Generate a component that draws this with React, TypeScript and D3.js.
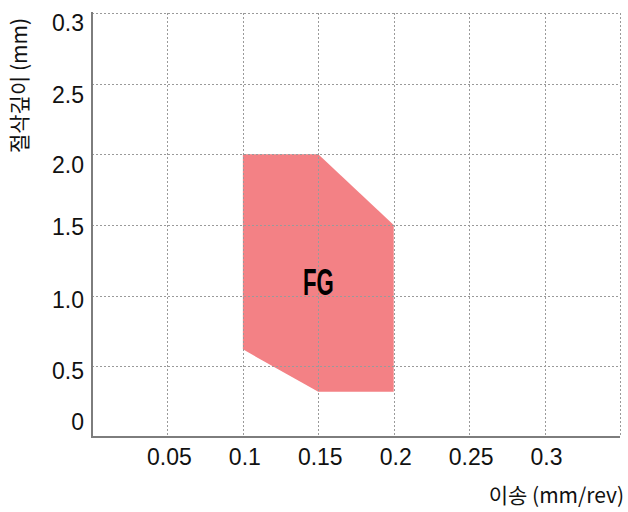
import { useEffect, useRef } from 'react';
import * as d3 from 'd3';

// region outline (feed mm/rev, depth of cut mm)
const regionFeed = [0.1, 0.15, 0.2, 0.2, 0.15, 0.1];
const regionDepth = [2.0, 2.0, 1.5, 0.32, 0.32, 0.62];
const regionName = 'FG';
const regionLabelAt = [0.15, 1.1];

const xTicks = [0.05, 0.1, 0.15, 0.2, 0.25, 0.3];
const xTickLabels = ['0.05', '0.1', '0.15', '0.2', '0.25', '0.3'];
const yTicks = [0, 0.5, 1.0, 1.5, 2.0, 2.5, 3.0];
const yTickLabels = ['0', '0.5', '1.0', '1.5', '2.0', '2.5', '0.3'];

const xTitle = '이송 (mm/rev)';
const yTitle = '절삭깊이 (mm)';

// label nudges (px) to match hand-placed tick labels
const yLabelDy = [-15, 5, 4, 1.5, 11, 11, 10];

function App() {
  const svgRef = useRef<SVGSVGElement>(null);

  useEffect(() => {
    const width = 628;
    const height = 512;
    const font = '"Liberation Sans", Arial, sans-serif';
    const krFont = '"Noto Sans CJK KR", "Liberation Sans", sans-serif';

    const svg = d3.select(svgRef.current);
    svg.selectAll('*').remove();
    svg.attr('width', width).attr('height', height);

    const x = d3.scaleLinear().domain([0, 0.35]).range([92, 620]);
    const y = d3.scaleLinear().domain([0, 3]).range([437, 13]);

    // region polygon
    const pts: [number, number][] = regionFeed.map((f, i) => [x(f), y(regionDepth[i])]);
    svg
      .append('path')
      .attr('d', d3.line()(pts) + 'Z')
      .attr('fill', '#f38185');

    // dotted grid (includes top and right borders)
    const grid = svg.append('g').attr('stroke', '#9a9a9a').attr('stroke-width', 1).attr('stroke-dasharray', '2,2');
    grid
      .selectAll('line.v')
      .data([...xTicks, 0.35])
      .enter()
      .append('line')
      .attr('x1', (d) => Math.round(x(d)) + 0.5)
      .attr('x2', (d) => Math.round(x(d)) + 0.5)
      .attr('y1', y(3))
      .attr('y2', y(0));
    grid
      .selectAll('line.h')
      .data(yTicks.slice(1))
      .enter()
      .append('line')
      .attr('x1', x(0))
      .attr('x2', x(0.35))
      .attr('y1', (d) => Math.round(y(d)) + 0.5)
      .attr('y2', (d) => Math.round(y(d)) + 0.5);

    // axis lines
    svg
      .append('path')
      .attr('d', `M${x(0)},${y(3) - 1}V${y(0)}H${x(0.35)}`)
      .attr('fill', 'none')
      .attr('stroke', '#7d7d7d')
      .attr('stroke-width', 2);

    // tick labels
    svg
      .selectAll('text.xt')
      .data(xTicks)
      .enter()
      .append('text')
      .attr('x', (d) => x(d) + 2)
      .attr('y', 465)
      .attr('text-anchor', 'middle')
      .attr('font-family', font)
      .attr('font-size', 23)
      .attr('fill', '#111')
      .text((d, i) => xTickLabels[i]);

    svg
      .selectAll('text.yt')
      .data(yTicks)
      .enter()
      .append('text')
      .attr('x', 84)
      .attr('y', (d, i) => y(d) + yLabelDy[i])
      .attr('dy', '0.35em')
      .attr('text-anchor', 'end')
      .attr('font-family', font)
      .attr('font-size', 23)
      .attr('fill', '#111')
      .text((d, i) => yTickLabels[i]);

    // axis titles
    svg
      .append('text')
      .attr('x', 624)
      .attr('y', 503)
      .attr('text-anchor', 'end')
      .attr('font-family', krFont)
      .attr('font-size', 21)
      .attr('fill', '#111')
      .text(xTitle);

    svg
      .append('text')
      .attr('transform', 'translate(27, 18) rotate(-90)')
      .attr('text-anchor', 'end')
      .attr('font-family', krFont)
      .attr('font-size', 21)
      .attr('fill', '#111')
      .text(yTitle);

    // region label
    svg
      .append('text')
      .attr('transform', `translate(${x(regionLabelAt[0])}, ${y(regionLabelAt[1]) + 13}) scale(0.6, 1)`)
      .attr('text-anchor', 'middle')
      .attr('font-family', font)
      .attr('font-weight', 'bold')
      .attr('font-size', 37)
      .attr('fill', '#000')
      .text(regionName);
  }, []);

  return <svg ref={svgRef} style={{ position: 'absolute', left: 0, top: 0, display: 'block' }}></svg>;
}

export default App;
